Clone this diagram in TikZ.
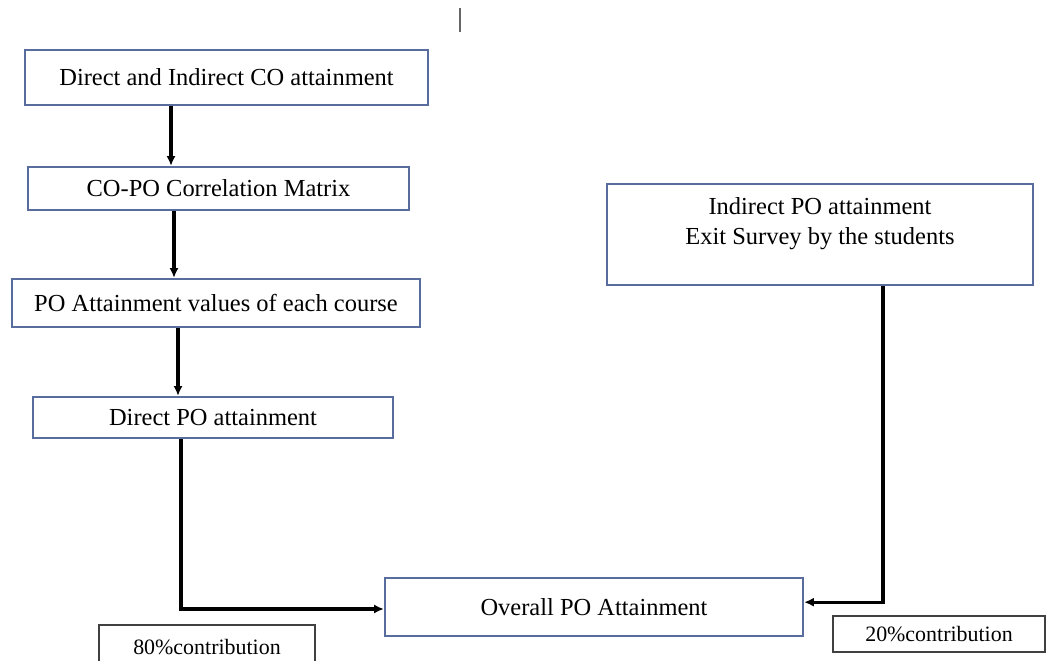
\documentclass[tikz,border=0pt]{standalone}
\usepackage{fontspec}
\setmainfont{Liberation Serif}
\usetikzlibrary{arrows.meta, positioning}
\definecolor{boxblue}{RGB}{88,108,158}

\begin{document}
\begin{tikzpicture}[x=0.025cm, y=-0.025cm, >=Latex,
    stage/.style={draw=boxblue, line width=1.6pt, fill=white, inner sep=0pt,
                  font=\fontsize{17.4}{21}\selectfont, align=center},
    share/.style={draw=black!75, line width=1.1pt, inner sep=0pt,
                  font=\fontsize{15.6}{18}\selectfont},
    flow/.style={->, line width=2.2pt, -{Latex[length=7pt, width=6.5pt]}}]
    \useasboundingbox (0,0) rectangle (1046,661);
    \clip (0,0) rectangle (1046,661);
    % stray mark at the top
    \draw[black!60, line width=1pt] (460,8) -- (460,32);
    % left column
    \node[stage, minimum width=403*0.025cm, minimum height=55*0.025cm] (co) at (226.5,77.5) {Direct and Indirect CO attainment};
    \node[stage, minimum width=381*0.025cm, minimum height=43*0.025cm] (mat) at (218.5,188.5) {CO-PO Correlation Matrix};
    \node[stage, minimum width=408*0.025cm, minimum height=48*0.025cm] (val) at (216,303) {PO Attainment values of each course};
    \node[stage, minimum width=360*0.025cm, minimum height=41*0.025cm] (dir) at (213,417.5) {Direct PO attainment};
    % right side
    \node[stage, minimum width=426*0.025cm, minimum height=101*0.025cm] (ind) at (820,234.5) {Indirect PO attainment\\Exit Survey by the students\\[-8pt]\strut};
    \node[stage, minimum width=418*0.025cm, minimum height=58*0.025cm] (ovr) at (594,607) {Overall PO Attainment};
    % contribution tags
    \node[share, minimum width=216*0.025cm, minimum height=44*0.025cm] (c80) at (207,647) {80\%contribution};
    \node[share, minimum width=212*0.025cm, minimum height=36*0.025cm] (c20) at (939,634) {20\%contribution};
    % where the arrows run
    \coordinate (l1) at (171,0);
    \coordinate (l2) at (174,0);
    \coordinate (l3) at (178,0);
    \coordinate (l4) at (181,0);
    \coordinate (r1) at (883,0);
    \draw[flow] (co.south -| l1) -- (mat.north -| l1);
    \draw[flow] (mat.south -| l2) -- (val.north -| l2);
    \draw[flow] (val.south -| l3) -- (dir.north -| l3);
    \draw[flow] (dir.south -| l4) |- ([yshift=-0.05cm]ovr.west);
    \draw[flow] (ind.south -| r1) |- ([yshift=0.12cm]ovr.east);
\end{tikzpicture}
\end{document}
